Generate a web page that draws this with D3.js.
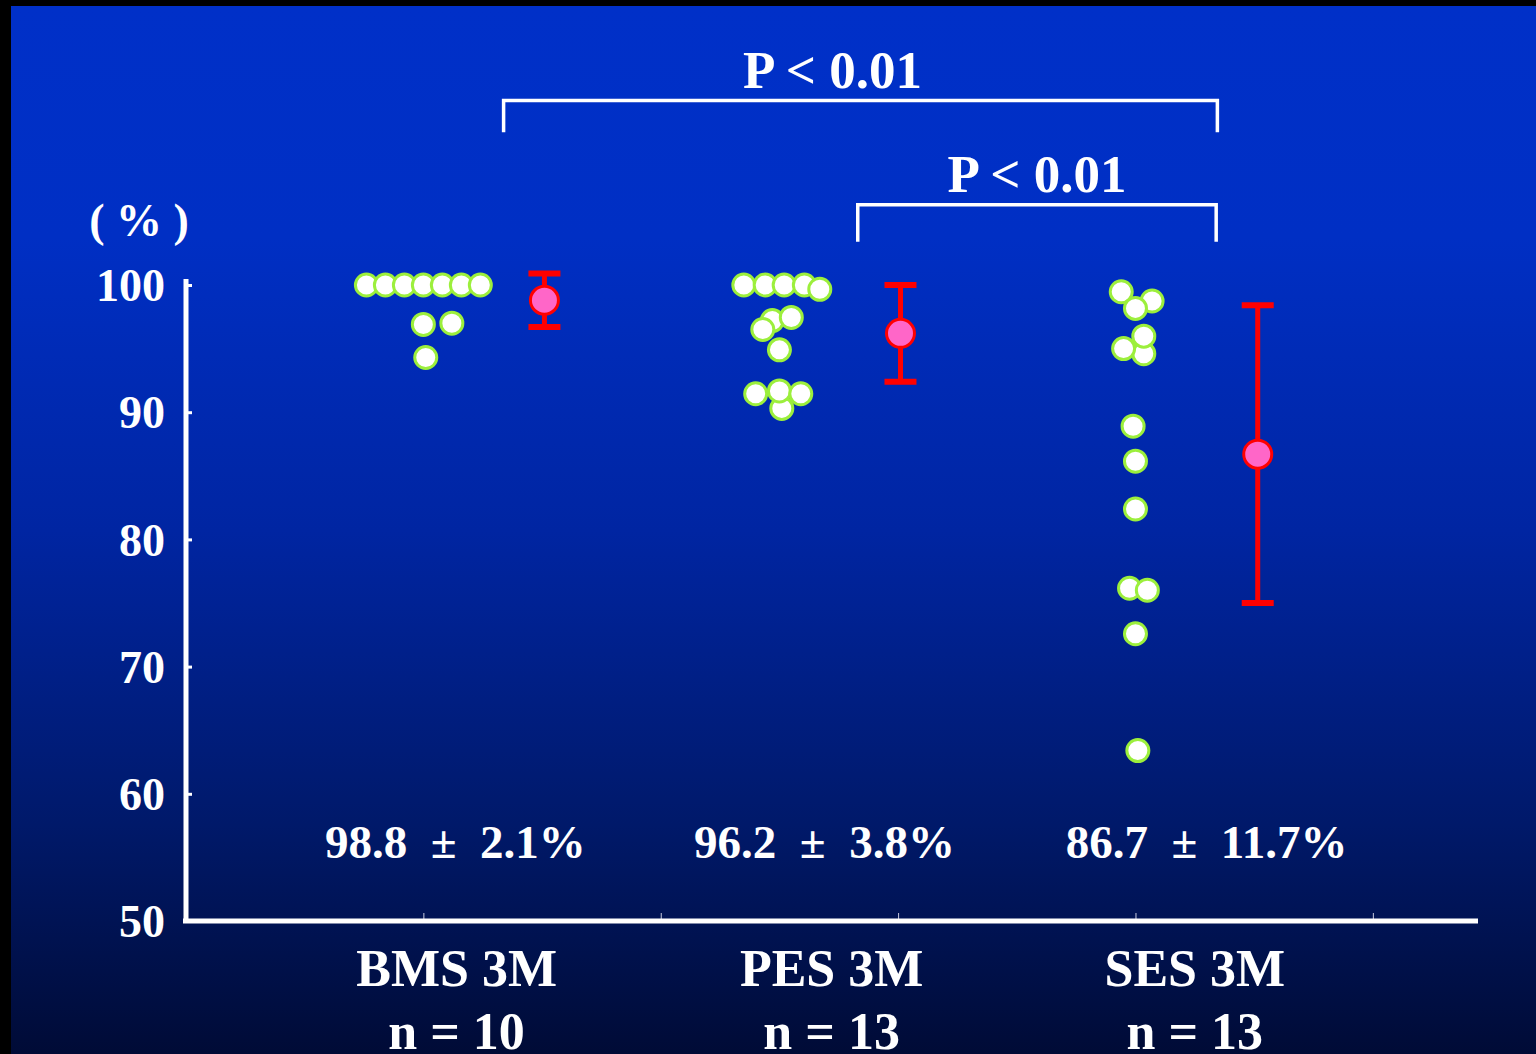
<!DOCTYPE html>
<html>
<head>
<meta charset="utf-8">
<script src="https://cdn.jsdelivr.net/npm/d3@7"></script>
<style>
    html, body { margin: 0; padding: 0; background: #000; }
    svg { display: block; }
    text { font-family: "Liberation Serif", "Times New Roman", serif; font-weight: bold; fill: #fff; }
</style>
</head>
<body>
<svg class="chart"></svg>
<script>
// values
var categories = ['BMS 3M', 'PES 3M', 'SES 3M'];
var counts = ['n = 10', 'n = 13', 'n = 13'];
var means = [98.8, 96.2, 86.7];
var sds = [2.1, 3.8, 11.7];
var statLabels = ['98.8  \u00b1  2.1%', '96.2  \u00b1  3.8%', '86.7  \u00b1  11.7%'];
var yTicks = [50, 60, 70, 80, 90, 100];
var xTicks = [0, 1, 2, 3, 4];

// individual patients, jitter is in category units
var bmsValues = [100, 100, 100, 100, 100, 100, 100, 96.9, 97.0, 94.3];
var bmsJitter = [-0.24, -0.16, -0.08, 0, 0.08, 0.16, 0.24, 0, 0.12, 0.01];
var pesValues = [100, 100, 100, 100, 99.66, 97.2, 97.45, 96.5, 94.9, 90.3, 91.45, 91.67, 91.45];
var pesJitter = [-0.15, -0.06, 0.02, 0.105, 0.17, -0.03, 0.05, -0.07, 0, 0.01, -0.10, 0, 0.09];
var sesValues = [99.47, 98.74, 98.16, 94.6, 95.0, 95.98, 88.9, 86.15, 82.39, 76.16, 76.0, 72.58, 63.4];
var sesJitter = [-0.06, 0.07, 0, 0.035, -0.05, 0.035, -0.01, 0, 0, -0.025, 0.05, 0, 0.01];

// where each group sits on the category axis
var dotPos = [0, 1.5, 3.0];
var meanPos = [0.51, 2.01, 3.515];
var labelPos = [0.14, 1.72, 3.25];
var statPos = [0.135, 1.69, 3.30];

// significance brackets: from group, to group, text
var brackets = [
    {from: 0.338, to: 3.345, top: 114.5, foot: 112, label: 'P < 0.01'},
    {from: 1.83, to: 3.34, top: 106.3, foot: 103.4, label: 'P < 0.01'}
];

var width = 1536, height = 1054;

var chart = d3.select('.chart')
    .attr('width', width)
    .attr('height', height);

var defs = chart.append('defs');
var grad = defs.append('linearGradient')
    .attr('id', 'bg')
    .attr('x1', 0).attr('y1', 0).attr('x2', 0).attr('y2', 1);
[[0, '#0030c8'], [0.22, '#002fc4'], [0.5, '#0025a2'], [0.78, '#00196a'], [1, '#000b36']]
    .forEach(function(s){
        grad.append('stop').attr('offset', s[0]).attr('stop-color', s[1]);
    });

chart.append('rect')
    .attr('x', 11).attr('y', 6)
    .attr('width', width - 11).attr('height', height - 6)
    .attr('fill', 'url(#bg)');

var x = d3.scaleLinear().domain([-1, 4.443]).range([186, 1478]);
var y = d3.scaleLinear().domain([50, 100]).range([921, 285]);

var groups = [
    {values: bmsValues, jitter: bmsJitter},
    {values: pesValues, jitter: pesJitter},
    {values: sesValues, jitter: sesJitter}
].map(function(g, i){
    return {
        index: i,
        mean: means[i],
        sd: sds[i],
        points: g.values.map(function(v, j){ return {value: v, pos: dotPos[i] + g.jitter[j]}; })
    };
});

// axes
var axisY = chart.append('g')
    .attr('class', 'axis-y')
    .attr('transform', 'translate(' + x(-1) + ',0)')
    .call(d3.axisLeft(y).tickValues(yTicks).tickSizeInner(-6).tickSizeOuter(0).tickPadding(21));

axisY.select('.domain').remove();
axisY.selectAll('.tick line').attr('stroke', '#fff').attr('stroke-width', 3);
axisY.selectAll('.tick text')
    .attr('fill', '#fff')
    .style('font-size', '46px')
    .attr('font-family', null)
    .attr('dy', '0.34em');

var axisX = chart.append('g')
    .attr('class', 'axis-x')
    .attr('transform', 'translate(0,' + y(50) + ')')
    .call(d3.axisBottom(x).tickValues(xTicks).tickSizeInner(-8).tickSizeOuter(0).tickFormat(''));

axisX.select('.domain').remove();
axisX.selectAll('.tick line').attr('stroke', '#c8cce0').attr('stroke-width', 1);

chart.append('line')
    .attr('x1', x(-1)).attr('x2', x(-1))
    .attr('y1', y(100) - 6).attr('y2', y(50))
    .attr('stroke', '#fff').attr('stroke-width', 5);

chart.append('line')
    .attr('x1', x(-1) - 3).attr('x2', x(4.443))
    .attr('y1', y(50)).attr('y2', y(50))
    .attr('stroke', '#fff').attr('stroke-width', 5);

chart.append('text')
    .attr('x', 139).attr('y', 236)
    .attr('text-anchor', 'middle')
    .style('font-size', '46px')
    .style('white-space', 'pre')
    .text('( % )');

// patients
var layers = chart.selectAll('g.layer')
    .data(groups)
    .enter().append('g').classed('layer', true);

layers.selectAll('circle.dot')
    .data(function(d){ return d.points; })
    .enter().append('circle').classed('dot', true)
    .attr('cx', function(d){ return x(d.pos); })
    .attr('cy', function(d){ return y(d.value); })
    .attr('r', 11)
    .attr('fill', '#fff')
    .attr('stroke', '#9cef3c')
    .attr('stroke-width', 3);

// mean +- sd
var capW = 16;
layers.append('line')
    .attr('x1', function(d){ return x(meanPos[d.index]); })
    .attr('x2', function(d){ return x(meanPos[d.index]); })
    .attr('y1', function(d){ return y(d.mean + d.sd); })
    .attr('y2', function(d){ return y(d.mean - d.sd); })
    .attr('stroke', '#ff0000').attr('stroke-width', 5);

layers.selectAll('line.cap')
    .data(function(d){ return [d.mean + d.sd, d.mean - d.sd].map(function(v){ return {v: v, i: d.index}; }); })
    .enter().append('line').classed('cap', true)
    .attr('x1', function(d){ return x(meanPos[d.i]) - capW; })
    .attr('x2', function(d){ return x(meanPos[d.i]) + capW; })
    .attr('y1', function(d){ return y(d.v); })
    .attr('y2', function(d){ return y(d.v); })
    .attr('stroke', '#ff0000').attr('stroke-width', 6);

layers.append('circle')
    .attr('cx', function(d){ return x(meanPos[d.index]); })
    .attr('cy', function(d){ return y(d.mean); })
    .attr('r', 14)
    .attr('fill', '#ff66c8')
    .attr('stroke', '#ff0000')
    .attr('stroke-width', 3);

// texts under the points
layers.append('text')
    .attr('x', function(d){ return x(statPos[d.index]); })
    .attr('y', 858)
    .attr('text-anchor', 'middle')
    .style('font-size', '47px')
    .style('white-space', 'pre')
    .text(function(d){ return statLabels[d.index]; });

layers.append('text')
    .attr('x', function(d){ return x(labelPos[d.index]); })
    .attr('y', 986)
    .attr('text-anchor', 'middle')
    .style('font-size', '52px')
    .text(function(d){ return categories[d.index]; });

layers.append('text')
    .attr('x', function(d){ return x(labelPos[d.index]); })
    .attr('y', 1049)
    .attr('text-anchor', 'middle')
    .style('font-size', '52px')
    .text(function(d){ return counts[d.index]; });

// brackets
var marks = chart.selectAll('g.bracket')
    .data(brackets)
    .enter().append('g').classed('bracket', true);

marks.append('path')
    .attr('d', function(d){
        return 'M' + [x(d.from), y(d.foot)] + 'V' + y(d.top) + 'H' + x(d.to) + 'V' + y(d.foot);
    })
    .attr('fill', 'none')
    .attr('stroke', '#fff')
    .attr('stroke-width', 3.5);

marks.append('text')
    .attr('x', function(d){ return (x(d.from) + x(d.to)) / 2 + (d.from < 1 ? -28 : 0); })
    .attr('y', function(d){ return y(d.top) - 13; })
    .attr('text-anchor', 'middle')
    .style('font-size', '53px')
    .style('white-space', 'pre')
    .text(function(d){ return d.label; });
</script>
</body>
</html>
